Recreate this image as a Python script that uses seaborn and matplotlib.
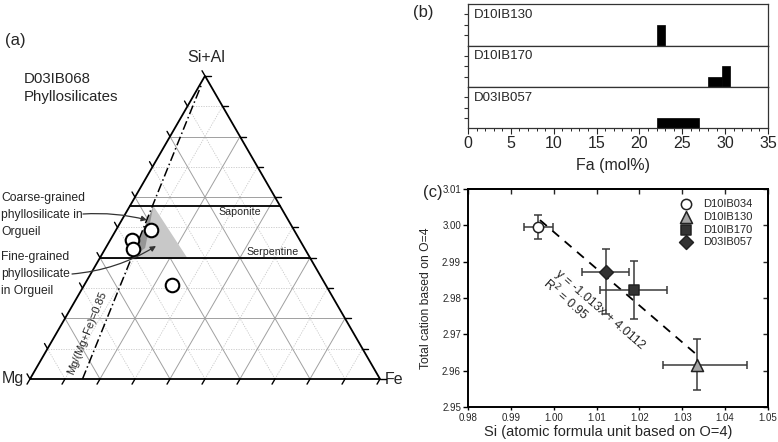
import numpy as np
import matplotlib
matplotlib.use('Agg')
import matplotlib.pyplot as plt
import seaborn as sns
from matplotlib.patches import Polygon

sns.set_theme(style='ticks')
plt.rcParams['font.family'] = ['Liberation Sans', 'DejaVu Sans']

# ---- (a) ternary data: fractions of (Si+Al, Mg, Fe)
phyl_sial = [0.49, 0.46, 0.43, 0.31]
phyl_mg = [0.41, 0.48, 0.49, 0.44]
phyl_fe = [0.10, 0.06, 0.08, 0.25]
saponite_sial = 4 / 7
serpentine_sial = 0.4
mg_number = 0.85
coarse_sial = [0.571, 0.40, 0.432]
coarse_mg = [0.362, 0.509, 0.455]
coarse_fe = [0.067, 0.091, 0.113]
fine_sial = [0.571, 0.4, 0.4]
fine_mg = [0.362, 0.351, 0.494]
fine_fe = [0.067, 0.249, 0.106]

# ---- (b) Fa histograms (bin edges, counts)
fa_samples = ['D10IB130', 'D10IB170', 'D03IB057']
fa_edges_130 = [22, 23]
fa_counts_130 = [2]
fa_edges_170 = [28, 29.6, 30.6]
fa_counts_170 = [1, 2]
fa_edges_057 = [22, 27]
fa_counts_057 = [1]

# ---- (c) Si vs total cation
c_samples = ['D10IB034', 'D10IB130', 'D10IB170', 'D03IB057']
si = [0.9964, 1.0334, 1.0187, 1.0121]
si_err_lo = [0.0034, 0.0078, 0.0078, 0.0054]
si_err_hi = [0.0034, 0.0117, 0.0078, 0.0055]
cation = [2.9996, 2.9615, 2.9822, 2.9872]
cat_err_lo = [0.0034, 0.0067, 0.0079, 0.0117]
cat_err_hi = [0.0032, 0.0071, 0.0079, 0.0064]
fit_slope, fit_icpt = -1.013, 4.0112
fit_x = [0.9968, 1.0330]
c_markers = ['o', '^', 's', 'D']
c_faces = ['white', '#a6a6a6', '#333333', '#333333']

fig = plt.figure(figsize=(7.78, 4.42), dpi=100)

# ================= (a) ternary =================
h = np.sqrt(3) / 2


def tern(sial, mg, fe):
    sial = np.asarray(sial, float)
    fe = np.asarray(fe, float)
    tot = sial + np.asarray(mg, float) + fe
    return fe / tot + sial / tot / 2, sial / tot * h


axa = fig.add_axes([0, 0, 400 / 778, 1])
axa.set_xlim(-30 / 350, 370 / 350)
axa.set_ylim(-63 / 350, 379 / 350)
axa.axis('off')

# grid
for i in range(1, 10):
    v = i / 10
    major = i % 2 == 0
    kw = dict(color='#a0a0a0', lw=0.7, ls='-') if major else dict(color='#c8c8c8', lw=0.6, ls=(0, (1.5, 1.5)))
    x, y = tern([v, v], [1 - v, 0], [0, 1 - v])
    axa.plot(x, y, zorder=1, **kw)
    x, y = tern([0, 1 - v], [1 - v, 0], [v, v])
    axa.plot(x, y, zorder=1, **kw)
    x, y = tern([0, 1 - v], [v, v], [1 - v, 0])
    axa.plot(x, y, zorder=1, **kw)

# shaded fields
fx, fy = tern(fine_sial, fine_mg, fine_fe)
axa.add_patch(Polygon(np.c_[fx, fy], closed=True, fc='#c8c8c8', ec='none', zorder=2))
cx, cy = tern(coarse_sial, coarse_mg, coarse_fe)
axa.add_patch(Polygon(np.c_[cx, cy], closed=True, fc='#969696', ec='none', zorder=2))

# triangle frame
tx, ty = tern([0, 0, 1, 0], [1, 0, 0, 1], [0, 1, 0, 0])
axa.plot(tx, ty, color='black', lw=1.3, zorder=4, solid_joinstyle='miter')

# ticks
tl = 0.017
for i in range(0, 11):
    v = i / 10
    x, y = tern(0, 1 - v, v)
    axa.plot([x, x - 0.5 * tl], [y, y - h * tl], color='black', lw=1, zorder=4)
    x, y = tern(v, 0, 1 - v)
    axa.plot([x, x + tl], [y, y], color='black', lw=1, zorder=4)
    x, y = tern(v, 1 - v, 0)
    axa.plot([x, x - 0.5 * tl], [y, y + h * tl], color='black', lw=1, zorder=4)

# saponite / serpentine boundaries
for s in [saponite_sial, serpentine_sial]:
    x, y = tern([s, s], [1 - s, 0], [0, 1 - s])
    axa.plot(x, y, color='black', lw=1.3, zorder=4)

# Mg/(Mg+Fe) line
tt = np.array([0, 0.97])
x, y = tern(tt, (1 - tt) * mg_number, (1 - tt) * (1 - mg_number))
axa.plot(x, y, color='black', lw=1.1, ls=(0, (6, 2, 1, 2)), zorder=4)

px, py = tern(phyl_sial, phyl_mg, phyl_fe)
sns.scatterplot(x=px, y=py, ax=axa, marker='o', s=95, facecolor='white',
                edgecolor='black', linewidth=1.5, zorder=6)

P = lambda X, Y: ((X - 30) / 350, (379 - Y) / 350)
axa.text(*P(15, 40), '(a)', fontsize=12, ha='center', va='center')
axa.text(*P(206, 58), 'Si+Al', fontsize=11.5, ha='center', va='center')
axa.text(*P(13, 379), 'Mg', fontsize=11.5, ha='center', va='center')
axa.text(*P(385, 379), 'Fe', fontsize=11.5, ha='left', va='center')
axa.text(*P(24, 88), 'D03IB068\nPhyllosilicates', fontsize=10.8, ha='left', va='center', linespacing=1.45)
axa.text(*P(240, 212), 'Saponite', fontsize=7.7, ha='center', va='center')
axa.text(*P(273, 252), 'Serpentine', fontsize=7.7, ha='center', va='center')
axa.text(*P(87, 333), 'Mg/(Mg+Fe)=0.85', fontsize=8, ha='center', va='center', rotation=68)
axa.text(*P(1, 215), 'Coarse-grained\nphyllosilicate in\nOrgueil', fontsize=8.7,
         ha='left', va='center', linespacing=1.55)
axa.text(*P(1, 274), 'Fine-grained\nphyllosilicate\nin Orgueil', fontsize=8.7,
         ha='left', va='center', linespacing=1.55)
axa.annotate('', xy=P(147, 220), xytext=P(83, 214),
             arrowprops=dict(arrowstyle='-|>', color='#333333', lw=0.9, mutation_scale=8,
                             connectionstyle='arc3,rad=-0.08', shrinkA=0, shrinkB=0), zorder=7)
axa.annotate('', xy=P(156, 246), xytext=P(72, 274),
             arrowprops=dict(arrowstyle='-|>', color='#333333', lw=0.9, mutation_scale=8,
                             connectionstyle='arc3,rad=0.12', shrinkA=0, shrinkB=0), zorder=7)

# ================= (b) histograms =================
left, width = 468 / 778, 300 / 778
tops = [4, 45.5, 87]
bots = [45.5, 87, 128]
edges_list = [fa_edges_130, fa_edges_170, fa_edges_057]
counts_list = [fa_counts_130, fa_counts_170, fa_counts_057]
axes_b = []
for k in range(3):
    ax = fig.add_axes([left, 1 - bots[k] / 442, width, (bots[k] - tops[k]) / 442])
    e = np.asarray(edges_list[k], float)
    ax.bar(e[:-1], counts_list[k], width=np.diff(e), align='edge', color='black', edgecolor='black', lw=0.5)
    ax.set_xlim(0, 35)
    ax.set_ylim(0, 4)
    ax.set_yticks([1, 2, 3])
    ax.set_yticklabels([])
    ax.tick_params(axis='y', direction='out', length=3, width=0.8, color='#333333')
    for sp in ax.spines.values():
        sp.set_linewidth(0.9)
        sp.set_color('#333333')
    ax.text(0.02, 0.74, fa_samples[k], transform=ax.transAxes, fontsize=9.5, ha='left', va='center')
    if k < 2:
        ax.tick_params(axis='x', length=0, labelbottom=False)
    axes_b.append(ax)
axb = axes_b[-1]
axb.set_xticks(np.arange(0, 36, 5))
axb.set_xticks(np.arange(0, 36, 1), minor=True)
axb.tick_params(axis='x', which='major', direction='out', length=4, width=0.8, labelsize=11.5, pad=1.5)
axb.tick_params(axis='x', which='minor', direction='out', length=2.5, width=0.7)
axb.set_xlabel('Fa (mol%)', fontsize=11.5)
axb.xaxis.set_label_coords(0.483, -0.72)
fig.text(423 / 778, 1 - 12 / 442, '(b)', fontsize=12, ha='center', va='center')

# ================= (c) scatter =================
axc = fig.add_axes([left, 1 - 407 / 442, width, 218 / 442])
xx = np.array(fit_x)
axc.plot(xx, fit_slope * xx + fit_icpt, color='black', lw=1.3, ls=(0, (5, 4)), zorder=2)
for i, name in enumerate(c_samples):
    axc.errorbar(si[i], cation[i], xerr=[[si_err_lo[i]], [si_err_hi[i]]],
                 yerr=[[cat_err_lo[i]], [cat_err_hi[i]]], fmt='none', ecolor='#3a3a3a',
                 elinewidth=1.1, capsize=3, capthick=1.1, zorder=3)
    sz = {'o': 55, '^': 75, 's': 45, 'D': 50}[c_markers[i]]
    sns.scatterplot(x=[si[i]], y=[cation[i]], ax=axc, marker=c_markers[i], s=sz,
                    facecolor=c_faces[i], edgecolor='#222222', linewidth=1.1, zorder=5, label=name)
axc.set_xlim(0.98, 1.05)
axc.set_ylim(2.95, 3.01)
xt = np.arange(0.98, 1.0501, 0.01)
yt = np.arange(2.95, 3.0101, 0.01)
axc.set_xticks(xt)
axc.set_yticks(yt)
axc.xaxis.set_major_formatter(matplotlib.ticker.FormatStrFormatter('%.2f'))
axc.yaxis.set_major_formatter(matplotlib.ticker.FormatStrFormatter('%.2f'))
axc.tick_params(axis='both', labelsize=7, width=1, color='black')
axc.tick_params(axis='x', direction='out', length=2, pad=2)
axc.tick_params(axis='y', direction='out', length=3.5, pad=1.5)
for sp in axc.spines.values():
    sp.set_linewidth(1.4)
    sp.set_color('black')
topax = axc.secondary_xaxis('top')
topax.set_xticks(xt)
topax.tick_params(direction='in', length=3.5, width=1, labeltop=False)
rightax = axc.secondary_yaxis('right')
rightax.set_yticks(yt)
rightax.tick_params(direction='in', length=3.5, width=1, labelright=False)
for sax in (topax, rightax):
    for sp in sax.spines.values():
        sp.set_linewidth(1.4)
axc.set_xlabel('Si (atomic formula unit based on O=4)', fontsize=10.5)
axc.set_ylabel('Total cation based on O=4', fontsize=8.7)
axc.xaxis.set_label_coords(0.467, -0.083)
axc.yaxis.set_label_coords(-0.12, 0.5)
fig.text(600 / 778, 1 - 310 / 442, 'y = -1.013x + 4.0112', fontsize=9, ha='center', va='center', rotation=-41)
fig.text(566 / 778, 1 - 299 / 442, 'R$^2$ = 0.95', fontsize=9, ha='center', va='center', rotation=-41)
leg = axc.legend(loc='upper right', bbox_to_anchor=(0.975, 0.99), frameon=False, fontsize=8,
                 handletextpad=1.1, labelspacing=0.25, borderaxespad=0.3, handlelength=1.0)
fig.text(433 / 778, 1 - 192 / 442, '(c)', fontsize=12, ha='center', va='center')

fig.savefig('out.png', dpi=100)
